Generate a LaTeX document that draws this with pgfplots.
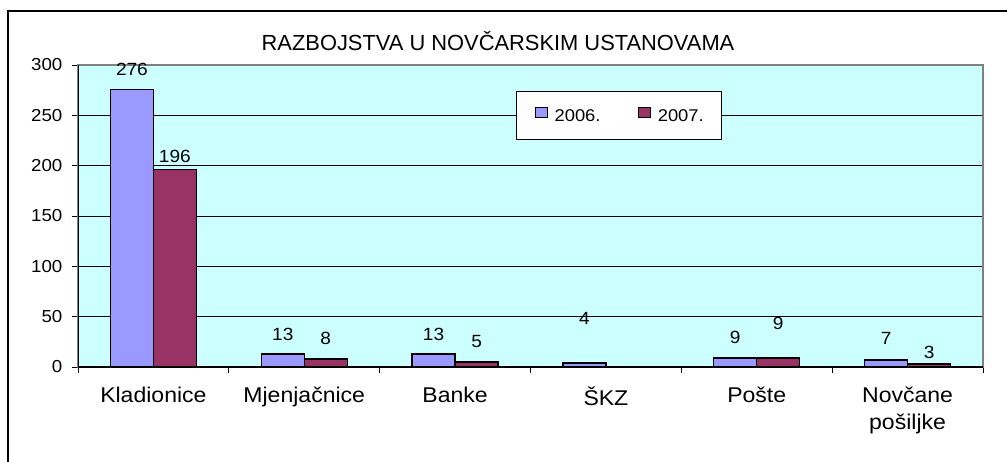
\documentclass[border=0pt]{standalone}
\usepackage{fontspec}
\setmainfont{Liberation Sans}[FakeStretch=1.08]
\newfontfamily\titlefont{Liberation Sans}
\usepackage{pgfplots}
\pgfplotsset{compat=1.18}
\definecolor{bgc}{HTML}{CCFFFF}
\definecolor{cA}{HTML}{9999FF}
\definecolor{cB}{HTML}{993366}
\begin{document}
\begin{tikzpicture}
\useasboundingbox (0,0) rectangle (755.25pt,345.75pt);
\draw[line width=1.1pt] (6pt,-2pt) -- (6pt,337.4pt) -- (760pt,337.4pt);
\node[font=\titlefont\fontsize{16.4pt}{20pt}\selectfont, inner sep=0pt] at (373.5pt,314.6pt) {RAZBOJSTVA U NOVČARSKIM USTANOVAMA};
\begin{axis}[
  at={(58.5pt,70.5pt)}, anchor=south west,
  scale only axis, width=678.75pt, height=226.5pt,
  xmin=-0.5, xmax=5.5, ymin=0, ymax=300,
  /pgf/number format/assume math mode=true,
  axis background/.style={fill=bgc},
  axis line style={draw=gray, line width=0.9pt},
  tick pos=left, tick align=outside,
  major tick length=4.5pt,
  tick style={black, line width=0.6pt},
  ytick={0,50,...,300},
  ymajorgrids, major grid style={black, line width=0.6pt},
  yticklabel style={font=\fontsize{13pt}{15pt}\selectfont, inner sep=0pt, anchor=east, xshift=-7pt},
  xtick={-0.5,0.5,...,5.5}, xticklabels={},
  extra x ticks={0,1,2,3,4,5},
  extra x tick labels={Kladionice,Mjenjačnice,Banke,ŠKZ,Pošte,{Novčane\\pošiljke}},
  extra x tick style={major tick length=0pt, tick label style={font=\fontsize{16pt}{19.9pt}\selectfont, align=center, inner sep=0pt, anchor=north, yshift=-15pt}},
  legend columns=2,
  legend style={at={(0.598,0.833)}, anchor=center, draw=black, line width=0.6pt, fill=white,
    inner xsep=13.5pt, inner ysep=12pt, font=\fontsize{12.75pt}{14pt}\selectfont,
    nodes={inner sep=0pt},
    /tikz/every even column/.append style={column sep=28pt},
    /tikz/every odd column/.append style={column sep=5.25pt}},
  nodes near coords style={font=\fontsize{13.25pt}{15pt}\selectfont, anchor=center, inner sep=0pt},
]
\draw[black, line width=0.9pt] (rel axis cs:0,1) -- (rel axis cs:0,0) -- (rel axis cs:1,0);
\addplot[ybar, bar width=32.25pt, bar shift=-16.125pt, fill=cA, draw=black, line width=0.9pt,
  legend image code/.code={\draw[fill=cA, draw=black, line width=0.7pt] (0pt,-0.5pt) rectangle (9pt,7pt);}]
  coordinates {(0,276) (1,13) (2,13) (3,4) (4,9) (5,7)};
\addplot[ybar, bar width=32.25pt, bar shift=16.125pt, fill=cB, draw=black, line width=0.9pt,
  legend image code/.code={\draw[fill=cB, draw=black, line width=0.7pt] (0pt,-0.5pt) rectangle (9pt,7pt);}]
  coordinates {(0,196) (1,8) (2,5) (3,0) (4,9) (5,3)};
\addplot[draw=none, mark=none, forget plot, nodes near coords, point meta=explicit symbolic]
  table[x=x, y=y, meta=label] {
x y label
-0.1425 295.7 276
0.8575 32.6 13
1.8575 32.6 13
2.8575 48.5 4
3.8575 29.3 9
4.8575 28.0 7
};
\addplot[draw=none, mark=none, forget plot, nodes near coords, point meta=explicit symbolic]
  table[x=x, y=y, meta=label] {
x y label
0.1425 209.3 196
1.1425 28.5 8
2.1425 25.6 5
4.1425 43.4 9
5.1425 14.2 3
};
\legend{2006.,2007.}
\end{axis}
\end{tikzpicture}
\end{document}
